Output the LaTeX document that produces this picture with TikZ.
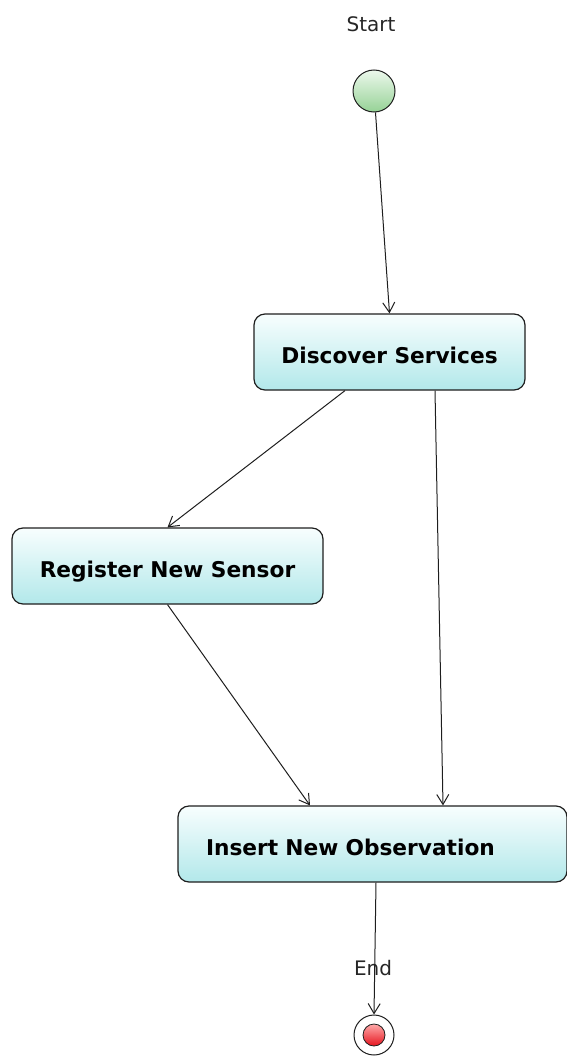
\documentclass[tikz,border=0pt]{standalone}
\usepackage{fontspec}
\setmainfont{DejaVu Sans}
\usetikzlibrary{arrows.meta,shadings}
\definecolor{boxtop}{RGB}{248,254,254}
\definecolor{boxbot}{RGB}{178,232,234}
\definecolor{edge}{RGB}{30,30,30}
\definecolor{greentop}{RGB}{236,248,236}
\definecolor{greenbot}{RGB}{150,210,150}
\definecolor{redtop}{RGB}{255,170,170}
\definecolor{redbot}{RGB}{230,20,30}
% activity label: baseline set a little below the node centre
\newcommand{\actlabel}[1]{\raisebox{-11.5pt}[0pt][0pt]{#1}}
\tikzset{
  x=1pt, y=-1pt,
  activity/.style={draw=edge, line width=1.2pt, rounded corners=11pt,
    top color=boxtop, bottom color=boxbot, minimum height=76pt,
    inner xsep=0pt, inner ysep=0pt,
    font=\fontsize{21.7}{24}\selectfont\bfseries},
  flow/.style={draw=edge, line width=1pt,
    -{Straight Barb[length=10pt,width=12pt,line width=1pt]}},
  caption/.style={font=\fontsize{20}{22}\selectfont, text=black!85}
}
\begin{document}
\begin{tikzpicture}
  \useasboundingbox (0,0) rectangle (567,1057);
  % initial and final states
  \node[circle, draw=edge, line width=1pt, minimum size=42pt, inner sep=0pt,
        top color=greentop, bottom color=greenbot] (start) at (374,91) {};
  \node[caption] (startlbl) at (371,24) {Start};
  \node[circle, draw=edge, line width=1pt, minimum size=40pt, inner sep=0pt,
        fill=white] (end) at (374,1035) {};
  \node[circle, draw=edge, line width=0.8pt, minimum size=22pt, inner sep=0pt,
        top color=redtop, bottom color=redbot] (endcore) at (374,1035) {};
  \node[caption] (endlbl) at (373,968) {End};
  % activities
  \node[activity, minimum width=271pt] (disc) at (389.5,352) {\actlabel{Discover Services}};
  \node[activity, minimum width=311pt] (reg) at (167.5,566) {\actlabel{Register New Sensor}};
  \node[activity, minimum width=389pt, text width=333pt, align=left,
        inner xsep=28pt] (ins) at (372.5,844) {\actlabel{Insert New Observation}};
  % control flow
  \draw[flow] (start) -- (disc.north);
  \draw[flow] ([xshift=-44.5pt]disc.south) -- (reg.north);
  \draw[flow] ([xshift=45.5pt]disc.south) -- ([xshift=70.5pt]ins.north);
  \draw[flow] (reg.south) -- ([xshift=-62.5pt]ins.north);
  \draw[flow] ([xshift=3.5pt]ins.south) -- (end.north);
\end{tikzpicture}
\end{document}
